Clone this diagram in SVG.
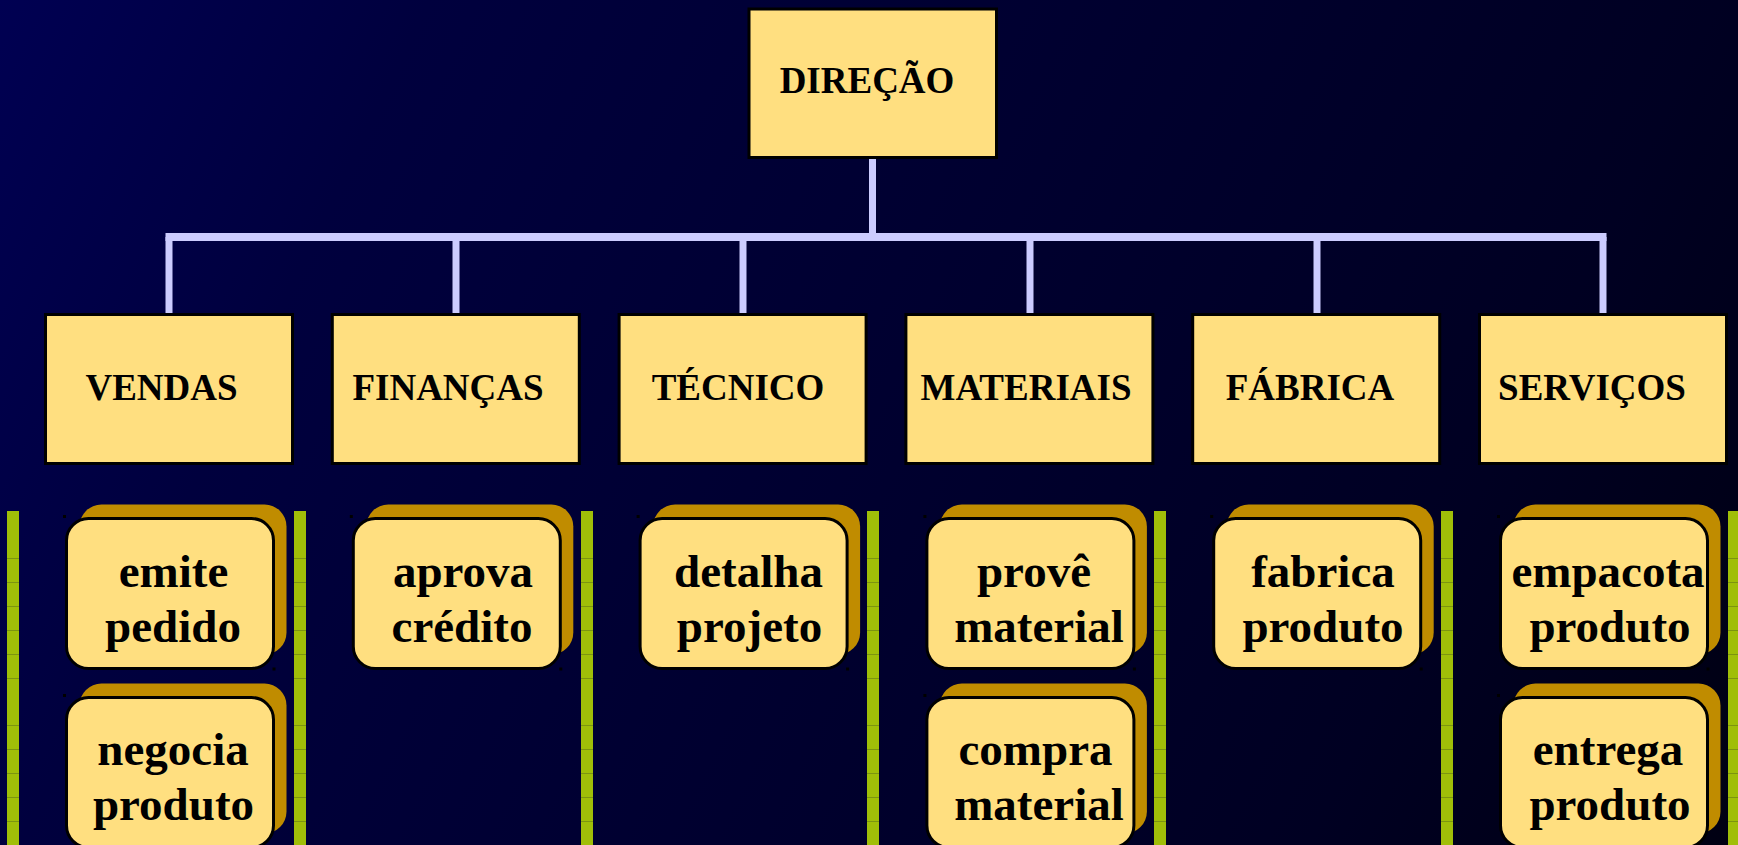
<svg xmlns="http://www.w3.org/2000/svg" width="1738" height="845" viewBox="0 0 1738 845">
<defs>
<linearGradient id="bg" gradientUnits="userSpaceOnUse" x1="0" y1="0" x2="1738" y2="845">
<stop offset="0" stop-color="#000052"/>
<stop offset="0.2" stop-color="#00003E"/>
<stop offset="0.8" stop-color="#000022"/>
<stop offset="1" stop-color="#000012"/>
</linearGradient>
<style>
.box{fill:#FFDF80;stroke:#000;stroke-width:3}
.shadow{fill:#C08C00}
.act{fill:#FFDF80;stroke:#000;stroke-width:3}
.dot{fill:#000}
.lbl{font-family:"Liberation Serif","Times New Roman",serif;font-weight:bold;font-size:37px;fill:#000;text-anchor:middle}
.atxt{font-family:"Liberation Serif","Times New Roman",serif;font-weight:bold;font-size:47px;fill:#000;text-anchor:middle}
.conn{stroke:#CCCCFF;stroke-width:7;fill:none}
.bar{fill:#A0BE08}
.tick{stroke:#7C9410;stroke-width:1}
</style>
</defs>
<rect x="0" y="0" width="1738" height="845" fill="url(#bg)"/>

<g id="lanes">
<rect class="bar" x="7" y="511" width="12" height="334"/>
<rect class="bar" x="294" y="511" width="12" height="334"/>
<rect class="bar" x="581" y="511" width="12" height="334"/>
<rect class="bar" x="867" y="511" width="12" height="334"/>
<rect class="bar" x="1154" y="511" width="12" height="334"/>
<rect class="bar" x="1441" y="511" width="12" height="334"/>
<rect class="bar" x="1728" y="511" width="12" height="334"/>
<g class="tick">
<path d="M7 558.5h12M7 582.5h12M7 606.5h12M7 630.5h12M7 654.5h12M7 678.5h12M7 725.5h12M7 749.5h12M7 773.5h12M7 797.5h12M7 821.5h12"/>
<path d="M294 558.5h12M294 582.5h12M294 606.5h12M294 630.5h12M294 654.5h12M294 678.5h12M294 725.5h12M294 749.5h12M294 773.5h12M294 797.5h12M294 821.5h12"/>
<path d="M581 558.5h12M581 582.5h12M581 606.5h12M581 630.5h12M581 654.5h12M581 678.5h12M581 725.5h12M581 749.5h12M581 773.5h12M581 797.5h12M581 821.5h12"/>
<path d="M867 558.5h12M867 582.5h12M867 606.5h12M867 630.5h12M867 654.5h12M867 678.5h12M867 725.5h12M867 749.5h12M867 773.5h12M867 797.5h12M867 821.5h12"/>
<path d="M1154 558.5h12M1154 582.5h12M1154 606.5h12M1154 630.5h12M1154 654.5h12M1154 678.5h12M1154 725.5h12M1154 749.5h12M1154 773.5h12M1154 797.5h12M1154 821.5h12"/>
<path d="M1441 558.5h12M1441 582.5h12M1441 606.5h12M1441 630.5h12M1441 654.5h12M1441 678.5h12M1441 725.5h12M1441 749.5h12M1441 773.5h12M1441 797.5h12M1441 821.5h12"/>
<path d="M1728 558.5h12M1728 582.5h12M1728 606.5h12M1728 630.5h12M1728 654.5h12M1728 678.5h12M1728 725.5h12M1728 749.5h12M1728 773.5h12M1728 797.5h12M1728 821.5h12"/>
</g>
</g>

<g id="connectors">
<line class="conn" x1="872.5" y1="158" x2="872.5" y2="237"/>
<line class="conn" x1="165.5" y1="237" x2="1606.5" y2="237" style="stroke-width:8"/>
<line class="conn" x1="169" y1="237" x2="169" y2="314"/>
<line class="conn" x1="456" y1="237" x2="456" y2="314"/>
<line class="conn" x1="743" y1="237" x2="743" y2="314"/>
<line class="conn" x1="1030" y1="237" x2="1030" y2="314"/>
<line class="conn" x1="1317" y1="237" x2="1317" y2="314"/>
<line class="conn" x1="1603" y1="237" x2="1603" y2="314"/>
</g>

<g id="direcao">
<rect class="box" x="749" y="9" width="247.5" height="148.5"/>
<text class="lbl" x="867" y="93">DIREÇÃO</text>
</g>

<g id="vendas">
<rect class="box" x="45.5" y="314.5" width="247" height="149"/>
<text class="lbl" x="161.5" y="400">VENDAS</text>
</g>
<g id="financas">
<rect class="box" x="332.3" y="314.5" width="247" height="149"/>
<text class="lbl" x="448" y="400">FINANÇAS</text>
</g>
<g id="tecnico">
<rect class="box" x="619.1" y="314.5" width="247" height="149"/>
<text class="lbl" x="738" y="400">TÉCNICO</text>
</g>
<g id="materiais">
<rect class="box" x="905.9" y="314.5" width="247" height="149"/>
<text class="lbl" x="1026" y="400">MATERIAIS</text>
</g>
<g id="fabrica">
<rect class="box" x="1192.7" y="314.5" width="247" height="149"/>
<text class="lbl" x="1310" y="400">FÁBRICA</text>
</g>
<g id="servicos">
<rect class="box" x="1479.5" y="314.5" width="247" height="149"/>
<text class="lbl" x="1592" y="400">SERVIÇOS</text>
</g>

<g id="emite-pedido">
<rect class="shadow" x="79.5" y="504.5" width="207" height="150" rx="22"/>
<rect class="act" x="66.5" y="518.5" width="207" height="150" rx="22"/>
<rect class="dot" x="63" y="515" width="3" height="3"/>
<rect class="dot" x="272.5" y="667.5" width="3" height="3"/>
<text class="atxt" x="173.5" y="587">emite</text>
<text class="atxt" x="173" y="642">pedido</text>
</g>
<g id="negocia-produto">
<rect class="shadow" x="79.5" y="683.5" width="207" height="150" rx="22"/>
<rect class="act" x="66.5" y="697.5" width="207" height="150" rx="22"/>
<rect class="dot" x="63" y="694" width="3" height="3"/>
<text class="atxt" x="173" y="765">negocia</text>
<text class="atxt" x="173.5" y="820">produto</text>
</g>
<g id="aprova-credito">
<rect class="shadow" x="366.3" y="504.5" width="207" height="150" rx="22"/>
<rect class="act" x="353.3" y="518.5" width="207" height="150" rx="22"/>
<rect class="dot" x="349.8" y="515" width="3" height="3"/>
<rect class="dot" x="559.3" y="667.5" width="3" height="3"/>
<text class="atxt" x="463" y="587">aprova</text>
<text class="atxt" x="462" y="642">crédito</text>
</g>
<g id="detalha-projeto">
<rect class="shadow" x="653.1" y="504.5" width="207" height="150" rx="22"/>
<rect class="act" x="640.1" y="518.5" width="207" height="150" rx="22"/>
<rect class="dot" x="636.6" y="515" width="3" height="3"/>
<rect class="dot" x="846.1" y="667.5" width="3" height="3"/>
<text class="atxt" x="748.5" y="587">detalha</text>
<text class="atxt" x="749.5" y="642">projeto</text>
</g>
<g id="prove-material">
<rect class="shadow" x="939.9" y="504.5" width="207" height="150" rx="22"/>
<rect class="act" x="926.9" y="518.5" width="207" height="150" rx="22"/>
<rect class="dot" x="923.4" y="515" width="3" height="3"/>
<rect class="dot" x="1132.9" y="667.5" width="3" height="3"/>
<text class="atxt" x="1034" y="587">provê</text>
<text class="atxt" x="1039" y="642">material</text>
</g>
<g id="compra-material">
<rect class="shadow" x="939.9" y="683.5" width="207" height="150" rx="22"/>
<rect class="act" x="926.9" y="697.5" width="207" height="150" rx="22"/>
<rect class="dot" x="923.4" y="694" width="3" height="3"/>
<text class="atxt" x="1035.5" y="765">compra</text>
<text class="atxt" x="1039" y="820">material</text>
</g>
<g id="fabrica-produto">
<rect class="shadow" x="1226.7" y="504.5" width="207" height="150" rx="22"/>
<rect class="act" x="1213.7" y="518.5" width="207" height="150" rx="22"/>
<rect class="dot" x="1210.2" y="515" width="3" height="3"/>
<rect class="dot" x="1419.7" y="667.5" width="3" height="3"/>
<text class="atxt" x="1323" y="587">fabrica</text>
<text class="atxt" x="1323" y="642">produto</text>
</g>
<g id="empacota-produto">
<rect class="shadow" x="1513.5" y="504.5" width="207" height="150" rx="22"/>
<rect class="act" x="1500.5" y="518.5" width="207" height="150" rx="22"/>
<rect class="dot" x="1497" y="515" width="3" height="3"/>
<rect class="dot" x="1706.5" y="667.5" width="3" height="3"/>
<text class="atxt" x="1608" y="587">empacota</text>
<text class="atxt" x="1610" y="642">produto</text>
</g>
<g id="entrega-produto">
<rect class="shadow" x="1513.5" y="683.5" width="207" height="150" rx="22"/>
<rect class="act" x="1500.5" y="697.5" width="207" height="150" rx="22"/>
<rect class="dot" x="1497" y="694" width="3" height="3"/>
<text class="atxt" x="1608" y="765">entrega</text>
<text class="atxt" x="1610" y="820">produto</text>
</g>
</svg>
